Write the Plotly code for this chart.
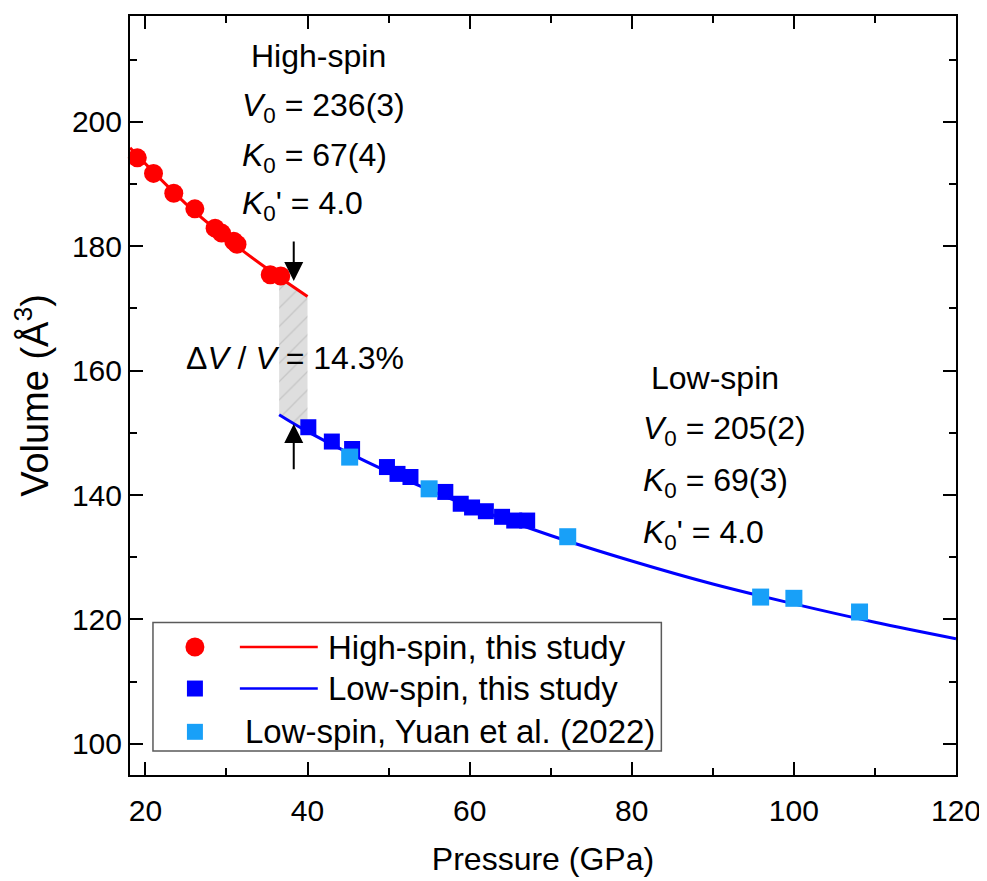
import plotly.graph_objects as go

# ---------------- data ----------------
hs_p = [19.0, 21.0, 23.5, 26.1, 28.6, 29.4, 30.9, 31.3, 35.4, 36.7]
hs_v = [194.2, 191.7, 188.5, 186.0, 182.9, 182.1, 180.8, 180.3, 175.4, 175.2]

ls_p = [40.1, 43.0, 45.5, 49.8, 51.1, 52.7, 57.0, 58.9, 60.3, 62.0, 64.0, 65.5, 67.1]
ls_v = [150.9, 148.6, 147.4, 144.5, 143.4, 142.9, 140.5, 138.6, 138.0, 137.4, 136.5, 135.9, 135.9]

yuan_p = [45.2, 55.0, 72.1, 95.9, 100.0, 108.1]
yuan_v = [146.1, 141.0, 133.3, 123.6, 123.4, 121.2]

hs_fit_p = [18.1, 25.0, 30.0, 35.0, 40.0]
hs_fit_v = [195.8, 186.8, 181.3, 176.4, 171.9]

ls_fit_p = [36.5, 40.0, 50.0, 60.0, 70.0, 80.0, 90.0, 100.0, 110.0, 120.0]
ls_fit_v = [152.9, 150.2, 143.7, 138.2, 133.5, 129.4, 125.7, 122.5, 119.55, 116.9]

gap_p = [36.5, 40.0, 40.0, 36.5, 36.5]
gap_v = [175.1, 171.9, 150.2, 152.9, 175.1]

x_ticks = [20, 40, 60, 80, 100, 120]
y_ticks = [100, 120, 140, 160, 180, 200]

legend_labels = ["High-spin, this study", "Low-spin, this study", "Low-spin, Yuan et al. (2022)"]

# ---------------- styling ----------------
FONT = "Liberation Sans, Arial, sans-serif"
RED = "#FF0000"
BLUE = "#0000FF"
LBLUE = "#18A0F8"

# page has an 8px body margin -> figure drawn at (8, 8)
OFF = 8
W, H = 987 - OFF, 881 - OFF
# plot area in screen pixels
L, R, T, B = 130, 957, 14, 775


def fx(sx):
    return (sx - L) / (R - L)


def fy(sy):
    return (B - sy) / (B - T)


fig = go.Figure()

# hatched gap region
fig.add_trace(go.Scatter(
    x=gap_p, y=gap_v, mode="lines", fill="toself",
    fillcolor="#DDDDDD", line=dict(width=0, color="rgba(0,0,0,0)"),
    fillpattern=dict(shape="/", fgcolor="#ABABAB", bgcolor="#DEDEDE", size=13, solidity=0.1),
    hoverinfo="skip", showlegend=False))

# fit curves
fig.add_trace(go.Scatter(x=hs_fit_p, y=hs_fit_v, mode="lines", line=dict(color=RED, width=3, shape="spline"),
                         showlegend=False))
fig.add_trace(go.Scatter(x=ls_fit_p, y=ls_fit_v, mode="lines", line=dict(color=BLUE, width=3, shape="spline"),
                         showlegend=False))

# data points
fig.add_trace(go.Scatter(x=hs_p, y=hs_v, mode="markers", cliponaxis=False,
                         marker=dict(symbol="circle", size=19, color=RED, line=dict(width=0)),
                         showlegend=False))
fig.add_trace(go.Scatter(x=ls_p, y=ls_v, mode="markers",
                         marker=dict(symbol="square", size=16, color=BLUE, line=dict(width=0)),
                         showlegend=False))
fig.add_trace(go.Scatter(x=yuan_p, y=yuan_v, mode="markers",
                         marker=dict(symbol="square", size=17, color=LBLUE, line=dict(width=0)),
                         showlegend=False))

# ---- custom legend drawn with paper-referenced shapes ----
leg_rows = [646.7, 688.3, 731.7]
leg_mx = 195


def pshape(kind, cx, cy, d, color):
    return dict(type=kind, xref="paper", yref="paper",
                x0=fx(cx - d / 2), x1=fx(cx + d / 2), y0=fy(cy + d / 2), y1=fy(cy - d / 2),
                fillcolor=color, line=dict(width=0), layer="above")


shapes = [
    dict(type="rect", xref="paper", yref="paper", x0=fx(153), x1=fx(662), y0=fy(751), y1=fy(622),
         line=dict(color="#5A5A5A", width=1.5), fillcolor="rgba(0,0,0,0)", layer="above"),
    pshape("circle", leg_mx, leg_rows[0], 19, RED),
    pshape("rect", leg_mx, leg_rows[1], 16, BLUE),
    pshape("rect", leg_mx, leg_rows[2], 16, LBLUE),
    dict(type="line", xref="paper", yref="paper", x0=fx(240), x1=fx(318), y0=fy(leg_rows[0]), y1=fy(leg_rows[0]),
         line=dict(color=RED, width=2.5)),
    dict(type="line", xref="paper", yref="paper", x0=fx(240), x1=fx(318), y0=fy(leg_rows[1]), y1=fy(leg_rows[1]),
         line=dict(color=BLUE, width=2.5)),
]

annotations = []
leg_text_x = [326, 326, 243]
for lab, r, tx in zip(legend_labels, leg_rows, leg_text_x):
    annotations.append(dict(xref="paper", yref="paper", x=fx(tx), y=fy(r), text=lab, showarrow=False,
                            xanchor="left", yanchor="middle", font=dict(size=33, color="black", family=FONT)))

AF = dict(size=32, color="black", family=FONT)


def note(sx, sy, text):
    return dict(xref="paper", yref="paper", x=fx(sx), y=fy(sy), text=text, showarrow=False,
                xanchor="left", yanchor="middle", font=AF)


# High-spin block
annotations += [
    note(249, 54, "High-spin"),
    note(240, 106, "<i>V</i><sub>0</sub> = 236(3)"),
    note(240, 156, "<i>K</i><sub>0</sub> = 67(4)"),
    note(240, 204, "<i>K</i><sub>0</sub>' = 4.0"),
]
# Low-spin block
annotations += [
    note(650, 377, "Low-spin"),
    note(642, 430, "<i>V</i><sub>0</sub> = 205(2)"),
    note(642, 482, "<i>K</i><sub>0</sub> = 69(3)"),
    note(642, 534, "<i>K</i><sub>0</sub>' = 4.0"),
]
# Delta V / V
annotations.append(note(184, 357, "Δ<i>V</i> / <i>V</i> = 14.3%"))
# arrows
annotations += [
    dict(x=38.3, y=174.4, ax=38.3, ay=181.0, xref="x", yref="y", axref="x", ayref="y", text="",
         showarrow=True, arrowhead=2, arrowsize=1.9, arrowwidth=2, arrowcolor="black"),
    dict(x=38.3, y=151.4, ax=38.3, ay=143.9, xref="x", yref="y", axref="x", ayref="y", text="",
         showarrow=True, arrowhead=2, arrowsize=1.9, arrowwidth=2, arrowcolor="black"),
]

axis_common = dict(
    showgrid=False, zeroline=False, showline=True, linecolor="black", linewidth=2,
    mirror="ticks", ticks="inside", ticklen=13, tickwidth=2, tickcolor="black",
    tickfont=dict(size=30, color="black", family=FONT),
)

fig.update_layout(
    width=W, height=H,
    margin=dict(l=L - OFF, r=W - (R - OFF), t=T - OFF, b=H - (B - OFF)),
    paper_bgcolor="white", plot_bgcolor="white",
    showlegend=False,
    font=dict(family=FONT, color="black"),
    xaxis=dict(range=[18.1, 120], tickvals=x_ticks, ticklabelstandoff=8,
               minor=dict(dtick=10, tick0=0, ticks="inside", ticklen=7, tickwidth=2, tickcolor="black"),
               title=dict(text="Pressure (GPa)", font=dict(size=32, family=FONT), standoff=22),
               **axis_common),
    yaxis=dict(range=[95, 217], tickvals=y_ticks,
               minor=dict(dtick=10, tick0=0, ticks="inside", ticklen=7, tickwidth=2, tickcolor="black"),
               title=dict(text="Volume (Å<sup>3</sup>)", font=dict(size=38, family=FONT), standoff=12),
               **axis_common),
    shapes=shapes,
    annotations=annotations,
)

fig.write_html("out.html")
